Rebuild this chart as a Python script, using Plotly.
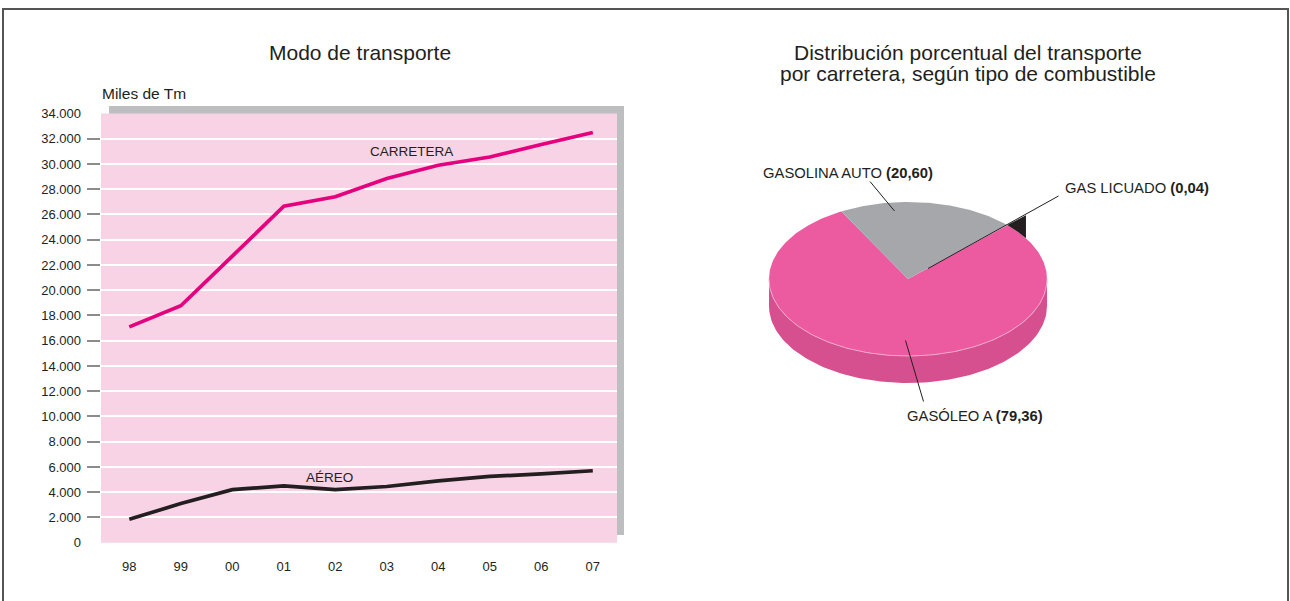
"""
Transporte de combustibles: modo de transporte y reparto por carretera.
Gráfico de líneas + tarta en perspectiva con Plotly.
"""

import numpy as np
import plotly.graph_objects as go

# Datos
anios = ['98', '99', '00', '01', '02', '03', '04', '05', '06', '07']
carretera = [17100, 18770, 22700, 26650, 27400, 28850, 29900, 30550, 31550, 32500]
aereo = [1850, 3100, 4200, 4500, 4200, 4450, 4900, 5250, 5450, 5700]

valores_eje = list(range(0, 34001, 2000))
marcas_eje = valores_eje[1:-1]  # el 0 y el 34.000 no llevan marca

combustibles = ['GASOLINA AUTO', 'GAS LICUADO', 'GASÓLEO A']
porcentajes = [20.60, 0.04, 79.36]

FONT = 'Liberation Sans, Arial, sans-serif'
W, H = 1290, 601

ROSA_LINEA = '#E5007D'
NEGRO = '#231F20'
ROSA_FONDO = '#F8D3E5'
GRIS_SOMBRA = '#BDBEC0'
colores_tarta = ['#A6A7AA', NEGRO, '#EC5BA0']
ROSA_LATERAL = '#D6508F'


def px_x(v):
    return v / W


def px_y(v):
    return 1 - v / H


fig = go.Figure()

# --- gráfico de líneas ---
fig.add_trace(go.Scatter(x=anios, y=carretera, mode='lines',
                         line=dict(color=ROSA_LINEA, width=3.7),
                         xaxis='x', yaxis='y', hoverinfo='x+y'))
fig.add_trace(go.Scatter(x=anios, y=aereo, mode='lines',
                         line=dict(color=NEGRO, width=3.7),
                         xaxis='x', yaxis='y', hoverinfo='x+y'))
# eje superpuesto solo para las marcas del eje Y
fig.add_trace(go.Scatter(x=[], y=[], xaxis='x', yaxis='y3', hoverinfo='skip'))

# --- tarta en perspectiva (ejes en píxeles) ---
cx, cy, rx, ry, prof = 908, 279, 139, 77, 27
inicio = 118.6  # ángulo de arranque del primer sector
lado_minimo = 12.5  # ancho visible del lateral del sector diminuto


def elipse(t, dy=0):
    t = np.radians(t)
    return cx + rx * np.cos(t), cy - ry * np.sin(t) + dy


# lateral
t1 = np.linspace(180, 360, 120)
xs1, ys1 = elipse(t1)
xs2, ys2 = elipse(t1[::-1], prof)
fig.add_trace(go.Scatter(x=np.r_[xs1, xs2], y=np.r_[ys1, ys2], fill='toself',
                         fillcolor=ROSA_LATERAL, mode='lines', line=dict(width=0),
                         xaxis='x2', yaxis='y2', hoverinfo='skip'))

angulos = []
a = inicio
for p in porcentajes:
    b = a - 360 * p / 100
    angulos.append((a, b))
    a = b

for i in [2, 0]:
    a, b = angulos[i]
    t = np.linspace(a, b, max(int(abs(a - b)), 2) + 1)
    xs, ys = elipse(t)
    fig.add_trace(go.Scatter(x=np.r_[cx, xs, cx], y=np.r_[cy, ys, cy], fill='toself',
                             fillcolor=colores_tarta[i], mode='lines', line=dict(width=0),
                             xaxis='x2', yaxis='y2', name=combustibles[i],
                             hoverinfo='name'))

# borde claro entre cara superior y lateral
xs, ys = elipse(t1)
fig.add_trace(go.Scatter(x=xs, y=ys, mode='lines', line=dict(color='#F4A6CA', width=1),
                         xaxis='x2', yaxis='y2', hoverinfo='skip'))

# sector diminuto (gas licuado): lateral visible
a, b = angulos[1]
t = np.linspace(a, a - lado_minimo, 20)
xs, ys = elipse(t)
xe, ye = elipse(a - lado_minimo, -prof * 0.85)
fig.add_trace(go.Scatter(x=np.r_[xs, xe, xs[0]], y=np.r_[ys, ye, ys[0]], fill='toself',
                         fillcolor=NEGRO, mode='lines', line=dict(width=0),
                         xaxis='x2', yaxis='y2', name=combustibles[1], hoverinfo='name'))

# líneas guía
guias = [((870, 181.5), (894.5, 211)),
         ((1058.5, 196), (928, 268.5)),
         ((923.5, 401.5), (905.5, 340.5))]
for (x0, y0), (x1, y1) in guias:
    fig.add_trace(go.Scatter(x=[x0, x1], y=[y0, y1], mode='lines',
                             line=dict(color=NEGRO, width=1),
                             xaxis='x2', yaxis='y2', hoverinfo='skip'))


def etiqueta(nombre, valor):
    return f"{nombre} <b>({valor:.2f})</b>".replace('.', ',')


anotaciones = [
    dict(text=etiqueta(combustibles[0], porcentajes[0]), x=848, y=173, xanchor='center'),
    dict(text=etiqueta(combustibles[1], porcentajes[1]), x=1063, y=188, xanchor='left'),
    dict(text=etiqueta(combustibles[2], porcentajes[2]), x=905, y=416, xanchor='left'),
]
for an in anotaciones:
    an.update(xref='x2', yref='y2', yanchor='middle', showarrow=False,
              font=dict(family=FONT, size=14.8, color=NEGRO))

anotaciones += [
    dict(text='Modo de transporte', x=360, y=52, xref='x2', yref='y2', showarrow=False,
         font=dict(family=FONT, size=21, color=NEGRO)),
    dict(text='Distribución porcentual del transporte', x=968, y=52, xref='x2', yref='y2',
         showarrow=False, font=dict(family=FONT, size=21, color=NEGRO)),
    dict(text='por carretera, según tipo de combustible', x=968, y=73, xref='x2', yref='y2',
         showarrow=False, font=dict(family=FONT, size=21, color=NEGRO)),
    dict(text='Miles de Tm', x=100, y=93, xref='x2', yref='y2', xanchor='left',
         showarrow=False, font=dict(family=FONT, size=15.5, color=NEGRO)),
    dict(text='CARRETERA', x=411, y=151, xref='x2', yref='y2', showarrow=False,
         font=dict(family=FONT, size=13.5, color=NEGRO)),
    dict(text='AÉREO', x=329, y=477, xref='x2', yref='y2', showarrow=False,
         font=dict(family=FONT, size=13.5, color=NEGRO)),
]

formas = [
    # sombra gris y fondo rosa del gráfico de líneas
    dict(type='rect', xref='paper', yref='paper', x0=px_x(109), x1=px_x(624),
         y0=px_y(535), y1=px_y(106),
         fillcolor=GRIS_SOMBRA, line=dict(width=0), layer='below'),
    dict(type='rect', xref='paper', yref='paper', x0=px_x(101), x1=px_x(617),
         y0=px_y(542.7), y1=px_y(113.5),
         fillcolor=ROSA_FONDO, line=dict(width=0), layer='below'),
    # marco exterior
    dict(type='rect', xref='x2', yref='y2', x0=3, x1=1288, y0=9, y1=604,
         line=dict(color='#555555', width=2), fillcolor='rgba(0,0,0,0)'),
]

dominio_y = [px_y(542.7), px_y(113.5)]

fig.update_layout(
    width=W, height=H,
    autosize=False,
    margin=dict(l=0, r=0, t=0, b=0, pad=0),
    paper_bgcolor='white',
    plot_bgcolor='rgba(0,0,0,0)',
    showlegend=False,
    separators=',.',
    font=dict(family=FONT, color=NEGRO),
    annotations=anotaciones,
    shapes=formas,
    xaxis=dict(domain=[px_x(101), px_x(617)], type='category', range=[-0.55, 9.47],
               showgrid=False, zeroline=False, showline=False, ticks='',
               ticklabelstandoff=14, automargin=False,
               tickfont=dict(family=FONT, size=13, color=NEGRO)),
    yaxis=dict(domain=dominio_y, range=[0, 34000],
               tickvals=valores_eje, tickformat=',d',
               showgrid=True, gridcolor='white', gridwidth=1.5,
               zeroline=False, showline=False, ticks='',
               ticklabelstandoff=19, automargin=False,
               tickfont=dict(family=FONT, size=13, color=NEGRO)),
    yaxis3=dict(domain=dominio_y, range=[0, 34000], overlaying='y', side='left',
                anchor='x', tickvals=marcas_eje, showticklabels=False,
                showgrid=False, zeroline=False, showline=False,
                ticks='outside', ticklen=13, tickcolor='#8C8C8C', tickwidth=2,
                automargin=False, fixedrange=True),
    xaxis2=dict(domain=[0, 1], range=[0, W], visible=False, fixedrange=True,
                anchor='y2', automargin=False),
    yaxis2=dict(domain=[0, 1], range=[H, 0], visible=False, fixedrange=True,
                anchor='x2', automargin=False),
)

# página sin márgenes: el gráfico ocupa exactamente la ventana
ajuste_pagina = """
document.documentElement.style.overflow = 'hidden';
document.body.style.margin = '0px';
var gd = document.getElementById('{plot_id}');
gd.style.position = 'fixed';
gd.style.left = '0px';
gd.style.top = '0px';
"""

fig.write_html("out.html", config={'displayModeBar': False}, post_script=ajuste_pagina)
